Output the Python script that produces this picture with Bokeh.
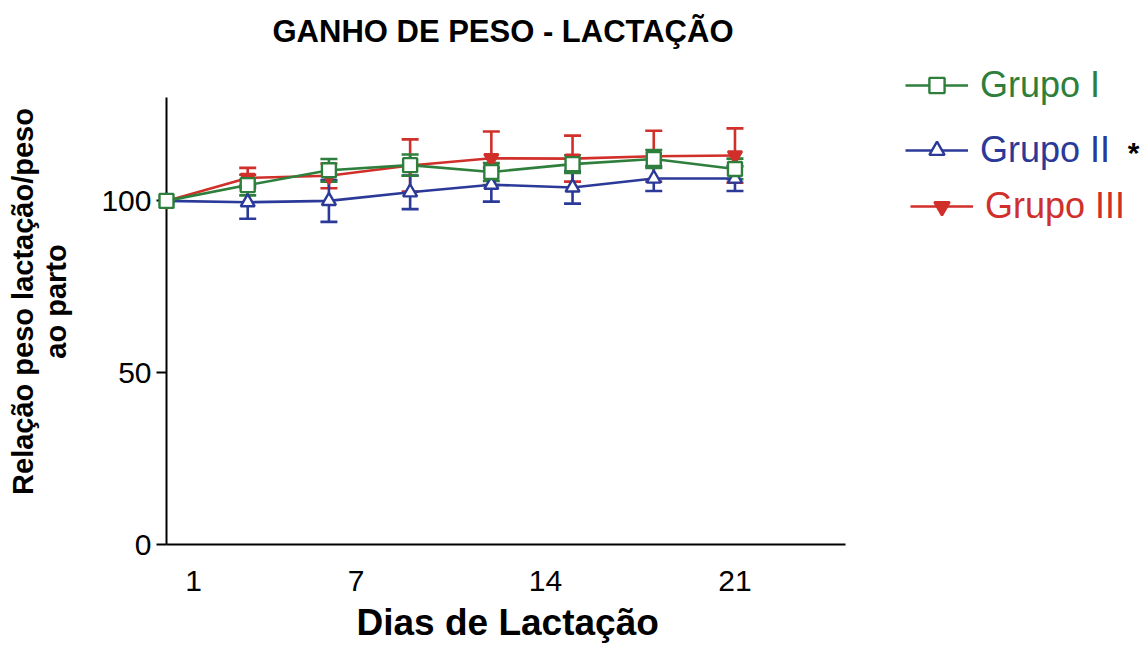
from bokeh.plotting import figure
from bokeh.models import (ColumnDataSource, Whisker, TeeHead, Legend, LegendItem,
                          Label, FixedTicker, Range1d, Title)
from bokeh.embed import file_html
from bokeh.resources import INLINE

# ---- data ----
days = [0, 3, 6, 9, 12, 15, 18, 21]
grupo1 = [100, 104.6, 108.9, 110.4, 108.4, 110.7, 112.2, 109.3]
grupo1_sd = [0, 3.0, 3.3, 3.1, 2.6, 2.6, 2.6, 3.0]
grupo2 = [100, 99.6, 100.0, 102.5, 104.7, 103.9, 106.5, 106.5]
grupo2_sd = [0, 4.8, 6.1, 4.9, 4.9, 4.7, 3.6, 3.6]
grupo3 = [100, 106.7, 107.3, 110.3, 112.4, 112.3, 113.0, 113.2]
grupo3_sd = [0, 2.9, 3.6, 7.6, 7.8, 6.7, 7.4, 7.9]
x_ticks = [1, 7, 14, 21]
y_ticks = [0, 50, 100]
labels = ["Grupo I", "Grupo II", "Grupo III"]

GREEN = "#2e7f3c"
BLUE = "#2b3a98"
RED = "#d12f2a"
FONT = "Liberation Sans"

# axes span 0..25.08 days and 0..130; the frame is larger so the legend
# (right of the data, partly above the y-axis top) sits inside it
X_AX_END, Y_AX_END = 25.08, 130
W, H = 1144, 652
LEFT, TOP, BOTTOM = 166, 58, 108
px_day = 27.07
px_unit = 3.436
x_end = (W - LEFT) / px_day
y_end = (H - TOP - BOTTOM) / px_unit

p = figure(width=W, height=H, output_backend="svg", toolbar_location=None,
           x_range=Range1d(0, x_end), y_range=Range1d(0, y_end),
           min_border_left=LEFT, min_border_right=0,
           min_border_top=TOP, min_border_bottom=BOTTOM,
           title="GANHO DE PESO - LACTAÇÃO")
p.outline_line_color = None
p.grid.visible = False

p.title.align = "left"
p.title.offset = 106
p.title.text_font = FONT
p.title.text_font_size = "31px"
p.title.text_font_style = "bold"
p.title.text_color = "black"
p.title.standoff = 20

# axes
xa = p.xaxis[0]
xa.ticker = FixedTicker(ticks=x_ticks)
xa.bounds = (0, X_AX_END)
xa.major_tick_out = 0
xa.major_tick_in = 0
xa.minor_tick_out = 0
xa.minor_tick_in = 0
xa.axis_line_width = 2
xa.major_label_text_font = FONT
xa.major_label_text_font_size = "30px"
xa.major_label_text_color = "black"
xa.major_label_standoff = 26

# x-axis title as a below-title so it sits under the axis (not the whole frame)
p.add_layout(Title(text="Dias de Lactação", align="left", offset=190,
                   vertical_align="top", standoff=16, text_font=FONT,
                   text_font_size="37px", text_font_style="bold",
                   text_color="black"), "below")

ya = p.yaxis[0]
ya.bounds = (0, Y_AX_END)
ya.ticker = FixedTicker(ticks=y_ticks)
ya.major_tick_out = 10
ya.major_tick_in = 0
ya.minor_tick_out = 0
ya.minor_tick_in = 0
ya.major_tick_line_width = 2
ya.axis_line_width = 2
ya.major_label_text_font = FONT
ya.major_label_text_font_size = "30px"
ya.major_label_text_color = "black"
ya.major_label_standoff = 5
ya.axis_label = "Relação peso lactação/peso\nao parto"
ya.axis_label_text_font = FONT
ya.axis_label_text_font_size = "29px"
ya.axis_label_text_font_style = "bold"
ya.axis_label_text_color = "black"
ya.axis_label_text_line_height = 1.05
ya.axis_label_standoff = 26

series = [
    (labels[2], grupo3, grupo3_sd, RED, "inverted_triangle", RED),
    (labels[1], grupo2, grupo2_sd, BLUE, "triangle", "white"),
    (labels[0], grupo1, grupo1_sd, GREEN, "square", "white"),
]
rends = {}
for name, vals, sd, col, mk, fill in series:
    src = ColumnDataSource(dict(x=days, y=vals,
                                lo=[v - s for v, s in zip(vals, sd)],
                                hi=[v + s for v, s in zip(vals, sd)]))
    w = Whisker(base="x", lower="lo", upper="hi", source=src,
                line_color=col, line_width=2.6,
                upper_head=TeeHead(size=17, line_color=col, line_width=2.6),
                lower_head=TeeHead(size=17, line_color=col, line_width=2.6))
    p.add_layout(w)
    ln = p.line("x", "y", source=src, line_color=col, line_width=2.6)
    sc = p.scatter("x", "y", source=src, marker=mk, size=14,
                   fill_color=fill, line_color=col, line_width=2.4, level="overlay")
    rends[name] = (ln, sc, col)

# one legend per entry so each label keeps its series colour
leg_pos = {labels[0]: (739, 438), labels[1]: (739, 373), labels[2]: (744, 317)}
for name in labels:
    ln, sc, col = rends[name]
    leg = Legend(items=[LegendItem(label=name, renderers=[ln, sc])],
                 location=leg_pos[name], glyph_width=63, glyph_height=38,
                 label_height=38, label_standoff=12, padding=0, margin=0,
                 spacing=0, border_line_color=None, background_fill_alpha=0,
                 label_text_font=FONT, label_text_font_size="36px",
                 label_text_color=col)
    p.add_layout(leg)

p.add_layout(Label(x=967, y=392, x_units="screen", y_units="screen", text="*",
                   text_font=FONT, text_font_size="30px", text_font_style="bold",
                   text_align="center", text_baseline="middle", text_color="black"))

open("out.html", "w").write(file_html(p, INLINE))
